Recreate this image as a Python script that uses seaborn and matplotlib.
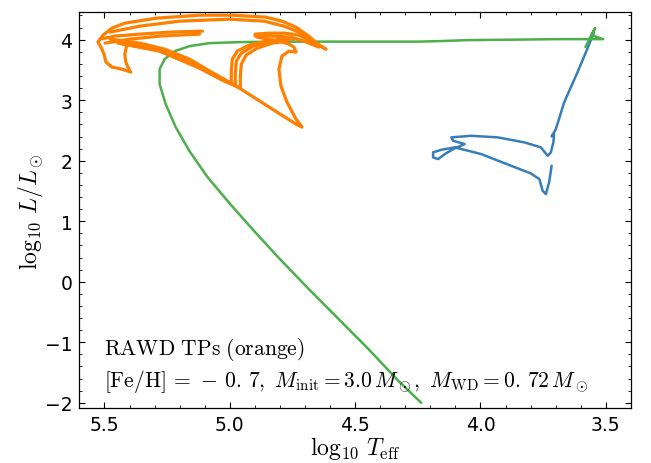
"""HR diagram of a RAWD model: pre-AGB track, thermal pulses and post-AGB cooling."""
import matplotlib
matplotlib.use("Agg")
import matplotlib.pyplot as plt
import pandas as pd
import seaborn as sns
from matplotlib.ticker import MultipleLocator

# blue: evolution up to the AGB
blue_logT = [3.716, 3.726, 3.739, 3.752, 3.765, 3.799, 3.878, 3.997, 4.103, 4.156, 4.189,
             4.189, 4.169, 4.142, 4.109, 4.063, 4.109, 4.116, 4.037, 3.931, 3.825, 3.759,
             3.732, 3.719, 3.709, 3.706, 3.716, 3.699, 3.666, 3.613, 3.574, 3.547]
blue_logL = [1.917, 1.642, 1.449, 1.504, 1.697, 1.791, 1.917, 2.110, 2.221, 2.181, 2.138,
             2.055, 2.027, 2.110, 2.192, 2.275, 2.330, 2.386, 2.412, 2.386, 2.303, 2.221,
             2.082, 2.138, 2.303, 2.440, 2.402, 2.523, 2.964, 3.459, 3.844, 4.120]

# green: post-AGB and white dwarf cooling
green_logT = [3.581, 3.562, 3.542, 3.558, 3.510, 3.693, 3.851, 4.050, 4.169, 4.248, 4.327,
              4.605, 4.804, 4.962, 5.081, 5.161, 5.220, 5.260, 5.280, 5.280, 5.256, 5.216,
              5.161, 5.089, 5.002, 4.903, 4.804, 4.685, 4.566, 4.447, 4.327, 4.236]
green_logL = [3.877, 4.042, 4.191, 4.075, 4.009, 4.009, 4.001, 3.993, 3.976, 3.968, 3.968,
              3.968, 3.968, 3.960, 3.943, 3.893, 3.811, 3.679, 3.514, 3.266, 2.936, 2.556,
              2.159, 1.730, 1.301, 0.838, 0.392, -0.120, -0.615, -1.111, -1.639, -2.002]

# orange: RAWD thermal pulses, one list per stroke
tp_outer_logT = [4.617, 4.653, 4.685, 4.736, 4.792, 4.855, 4.990, 5.121, 5.292, 5.419,
                 5.470, 5.506, 5.526, 5.514, 5.502, 5.494, 5.470, 5.431, 5.395]
tp_outer_logL = [3.844, 3.943, 4.059, 4.207, 4.306, 4.372, 4.405, 4.405, 4.356, 4.273,
                 4.191, 4.075, 3.960, 3.877, 3.761, 3.629, 3.547, 3.514, 3.464]
tp_top_logT = [5.478, 5.359, 5.200, 5.002, 4.863, 4.784, 4.724, 4.677]
tp_top_logL = [4.125, 4.224, 4.306, 4.339, 4.306, 4.224, 4.125, 4.009]
tp_big_logT = [5.478, 5.359, 5.260, 5.161, 5.073, 4.974, 4.843, 4.736, 4.712, 4.736,
               4.772, 4.796, 4.804, 4.792, 4.764, 4.736, 4.744, 4.764, 4.804, 4.891]
tp_big_logL = [4.009, 3.943, 3.844, 3.679, 3.464, 3.233, 2.886, 2.605, 2.556, 2.688,
               2.969, 3.233, 3.514, 3.728, 3.811, 3.794, 3.877, 3.927, 3.976, 4.042]
tp1_logT = [5.466, 5.319, 5.161, 5.062, 4.994, 4.994, 4.990, 4.970, 4.923, 4.855, 4.792, 4.744]
tp1_logL = [3.976, 3.893, 3.629, 3.415, 3.282, 3.481, 3.679, 3.811, 3.910, 3.976, 4.009, 4.009]
tp2_logT = [5.446, 5.300, 5.141, 5.042, 4.978, 4.978, 4.974, 4.954, 4.907, 4.843, 4.784]
tp2_logL = [3.943, 3.844, 3.580, 3.365, 3.249, 3.448, 3.646, 3.778, 3.893, 3.960, 3.993]
tp3_logT = [5.427, 5.280, 5.121, 5.022, 4.958, 4.958, 4.954, 4.935, 4.891, 4.831, 4.772]
tp3_logL = [3.927, 3.811, 3.530, 3.315, 3.200, 3.398, 3.596, 3.745, 3.860, 3.943, 3.976]
tp_mid_logT = [5.109, 5.240, 5.359, 5.458, 5.518]
tp_mid_logL = [4.141, 4.125, 4.092, 4.059, 4.009]
tp_mid2_logT = [5.121, 5.280, 5.399, 5.498]
tp_mid2_logL = [4.092, 4.059, 4.009, 3.943]
tp_hook_logT = [4.899, 4.843, 4.780, 4.724, 4.677, 4.617]
tp_hook_logL = [4.092, 4.108, 4.108, 4.075, 3.976, 3.844]
tp_hook2_logT = [4.899, 4.823, 4.756, 4.704, 4.645]
tp_hook2_logL = [4.059, 4.059, 4.042, 3.976, 3.877]
tp_left_logT = [5.411, 5.419, 5.415, 5.399]
tp_left_logL = [3.910, 3.761, 3.629, 3.481]

segments = [
    ("pre", "blue", blue_logT, blue_logL),
    ("post", "green", green_logT, green_logL),
    ("tp_outer", "orange", tp_outer_logT, tp_outer_logL),
    ("tp_top", "orange", tp_top_logT, tp_top_logL),
    ("tp_big", "orange", tp_big_logT, tp_big_logL),
    ("tp1", "orange", tp1_logT, tp1_logL),
    ("tp2", "orange", tp2_logT, tp2_logL),
    ("tp3", "orange", tp3_logT, tp3_logL),
    ("tp_mid", "orange", tp_mid_logT, tp_mid_logL),
    ("tp_mid2", "orange", tp_mid2_logT, tp_mid2_logL),
    ("tp_hook", "orange", tp_hook_logT, tp_hook_logL),
    ("tp_hook2", "orange", tp_hook2_logT, tp_hook2_logL),
    ("tp_left", "orange", tp_left_logT, tp_left_logL),
]
frames = []
for seg, track, t, l in segments:
    frames.append(pd.DataFrame({"logT": t, "logL": l, "track": track, "seg": seg}))
df = pd.concat(frames, ignore_index=True)

sns.set_style("ticks", rc={
    "axes.edgecolor": "black",
    "axes.labelcolor": "black",
    "text.color": "black",
    "xtick.color": "black",
    "ytick.color": "black",
})
plt.rcParams["mathtext.fontset"] = "cm"
plt.rcParams["xtick.direction"] = "in"
plt.rcParams["ytick.direction"] = "in"
plt.rcParams["xtick.top"] = True
plt.rcParams["ytick.right"] = True

palette = {"blue": "#377eb8", "green": "#4daf4a", "orange": "#ff7f00"}

fig, ax = plt.subplots(figsize=(6.51, 4.64), dpi=100)
fig.subplots_adjust(left=0.122, right=0.969, top=0.971, bottom=0.118)

is_tp = df["track"] == "orange"
sns.lineplot(data=df[~is_tp], x="logT", y="logL", hue="track", units="seg", estimator=None,
             sort=False, palette=palette, legend=False, lw=1.8, ax=ax)
sns.lineplot(data=df[is_tp], x="logT", y="logL", hue="track", units="seg", estimator=None,
             sort=False, palette=palette, legend=False, lw=2.3, ax=ax)

ax.set_xlim(5.6, 3.4)
ax.set_ylim(-2.09, 4.45)
ax.xaxis.set_major_locator(MultipleLocator(0.5))
ax.xaxis.set_minor_locator(MultipleLocator(0.1))
ax.yaxis.set_major_locator(MultipleLocator(1))
ax.yaxis.set_minor_locator(MultipleLocator(0.2))
ax.tick_params(which="major", length=4, width=0.8, labelsize=13.5, pad=5)
ax.tick_params(which="minor", length=2, width=0.6)
for sp in ax.spines.values():
    sp.set_linewidth(0.9)

ax.set_xlabel(r"$\log_{10}\,T_{\rm eff}$", fontsize=17, labelpad=0)
ax.set_ylabel(r"$\log_{10}\,L/L_\odot$", fontsize=17, labelpad=0)

ax.text(0.045, 0.15, r"$\mathrm{RAWD\ TPs\ (orange)}$", transform=ax.transAxes,
        fontsize=15.5, va="center", ha="left")
ax.text(0.045, 0.07,
        r"$[\mathrm{Fe/H}]\,=\,-\,0.\,7,\ M_{\rm init} = 3.0\,M_\odot,\ M_{\rm WD} = 0.\,72\,M_\odot$",
        transform=ax.transAxes, fontsize=15.5, va="center", ha="left")

fig.savefig("out.png", dpi=100)
plt.close(fig)
